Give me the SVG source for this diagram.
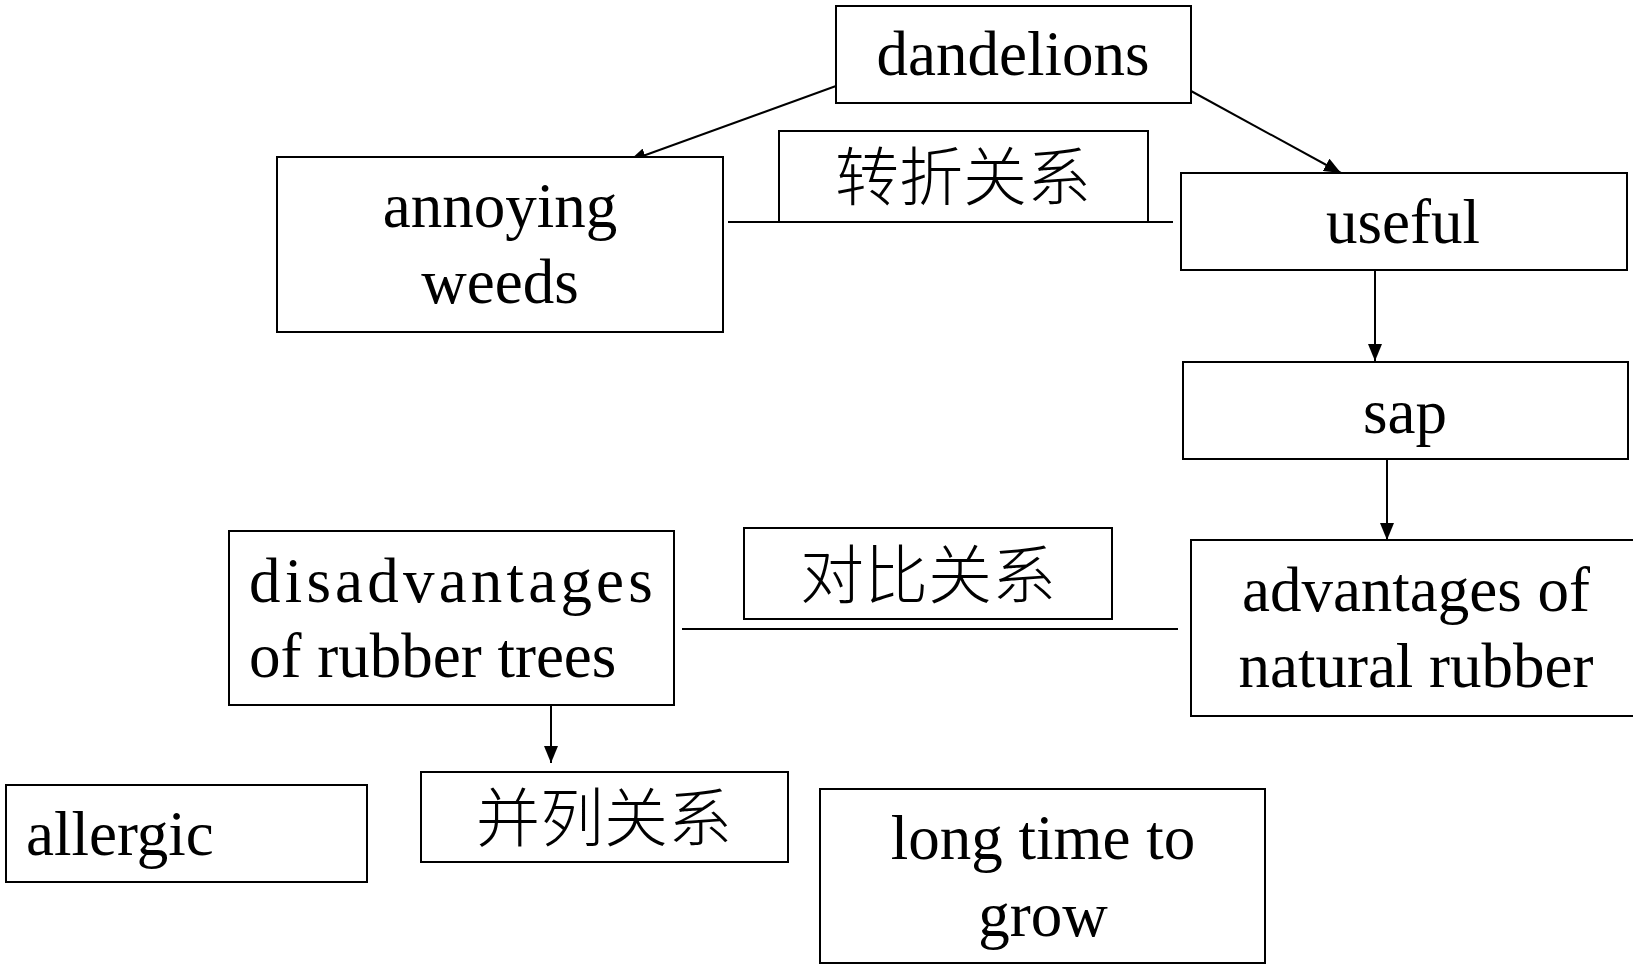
<svg xmlns="http://www.w3.org/2000/svg" width="1633" height="966" viewBox="0 0 1633 966">
<style>
.box{fill:#fff;stroke:#000;stroke-width:2}
.t{font-family:"Liberation Serif","Times New Roman",serif;font-size:63px;fill:#000}
.c{font-family:"Liberation Serif","Noto Sans CJK SC",sans-serif;font-size:64px;font-weight:300;fill:#000}
.ln{stroke:#000;stroke-width:2;fill:none}
</style>
<defs>
<marker id="arr" markerUnits="userSpaceOnUse" markerWidth="18" markerHeight="14" refX="17" refY="7" orient="auto">
<path d="M0,0 L17,7 L0,14 Z" fill="#000"/>
</marker>
</defs>
<rect width="1633" height="966" fill="#fff"/>
<g id="connectors">
<line class="ln" x1="836" y1="86" x2="629" y2="161" marker-end="url(#arr)"/>
<line class="ln" x1="1191" y1="91" x2="1341" y2="173" marker-end="url(#arr)"/>
<line class="ln" x1="728" y1="222" x2="1173" y2="222"/>
<line class="ln" x1="1375" y1="267" x2="1375" y2="361" marker-end="url(#arr)"/>
<line class="ln" x1="1387" y1="446" x2="1387" y2="540" marker-end="url(#arr)"/>
<line class="ln" x1="682" y1="629" x2="1178" y2="629"/>
<line class="ln" x1="551" y1="705" x2="551" y2="763" marker-end="url(#arr)"/>
</g>
<g id="dandelions">
<rect class="box" x="836" y="6" width="355" height="97"/>
<text class="t" x="1013" y="75" text-anchor="middle">dandelions</text>
</g>
<g id="annoying-weeds">
<rect class="box" x="277" y="157" width="446" height="175"/>
<text class="t" x="500" y="227" text-anchor="middle">annoying</text>
<text class="t" x="500" y="303" text-anchor="middle">weeds</text>
</g>
<g id="zhuanzhe">
<rect class="box" x="779" y="131" width="369" height="91"/>
<text class="c" x="963" y="200" text-anchor="middle">转折关系</text>
</g>
<g id="useful">
<rect class="box" x="1181" y="173" width="446" height="97"/>
<text class="t" x="1403" y="243" text-anchor="middle">useful</text>
</g>
<g id="sap">
<rect class="box" x="1183" y="362" width="445" height="97"/>
<text class="t" x="1405" y="433" text-anchor="middle">sap</text>
</g>
<g id="disadvantages">
<rect class="box" x="229" y="531" width="445" height="174"/>
<text class="t" x="249" y="602" letter-spacing="4.2">disadvantages</text>
<text class="t" x="249" y="677">of rubber trees</text>
</g>
<g id="duibi">
<rect class="box" x="744" y="528" width="368" height="91"/>
<text class="c" x="928" y="598" text-anchor="middle">对比关系</text>
</g>
<g id="advantages">
<rect class="box" x="1191" y="540" width="450" height="176"/>
<text class="t" x="1416" y="611" text-anchor="middle">advantages of</text>
<text class="t" x="1416" y="687" text-anchor="middle">natural rubber</text>
</g>
<g id="allergic">
<rect class="box" x="6" y="785" width="361" height="97"/>
<text class="t" x="26" y="855">allergic</text>
</g>
<g id="binglie">
<rect class="box" x="421" y="772" width="367" height="90"/>
<text class="c" x="604" y="841" text-anchor="middle">并列关系</text>
</g>
<g id="long-time">
<rect class="box" x="820" y="789" width="445" height="174"/>
<text class="t" x="1043" y="859" text-anchor="middle">long time to</text>
<text class="t" x="1043" y="936" text-anchor="middle">grow</text>
</g>
</svg>
